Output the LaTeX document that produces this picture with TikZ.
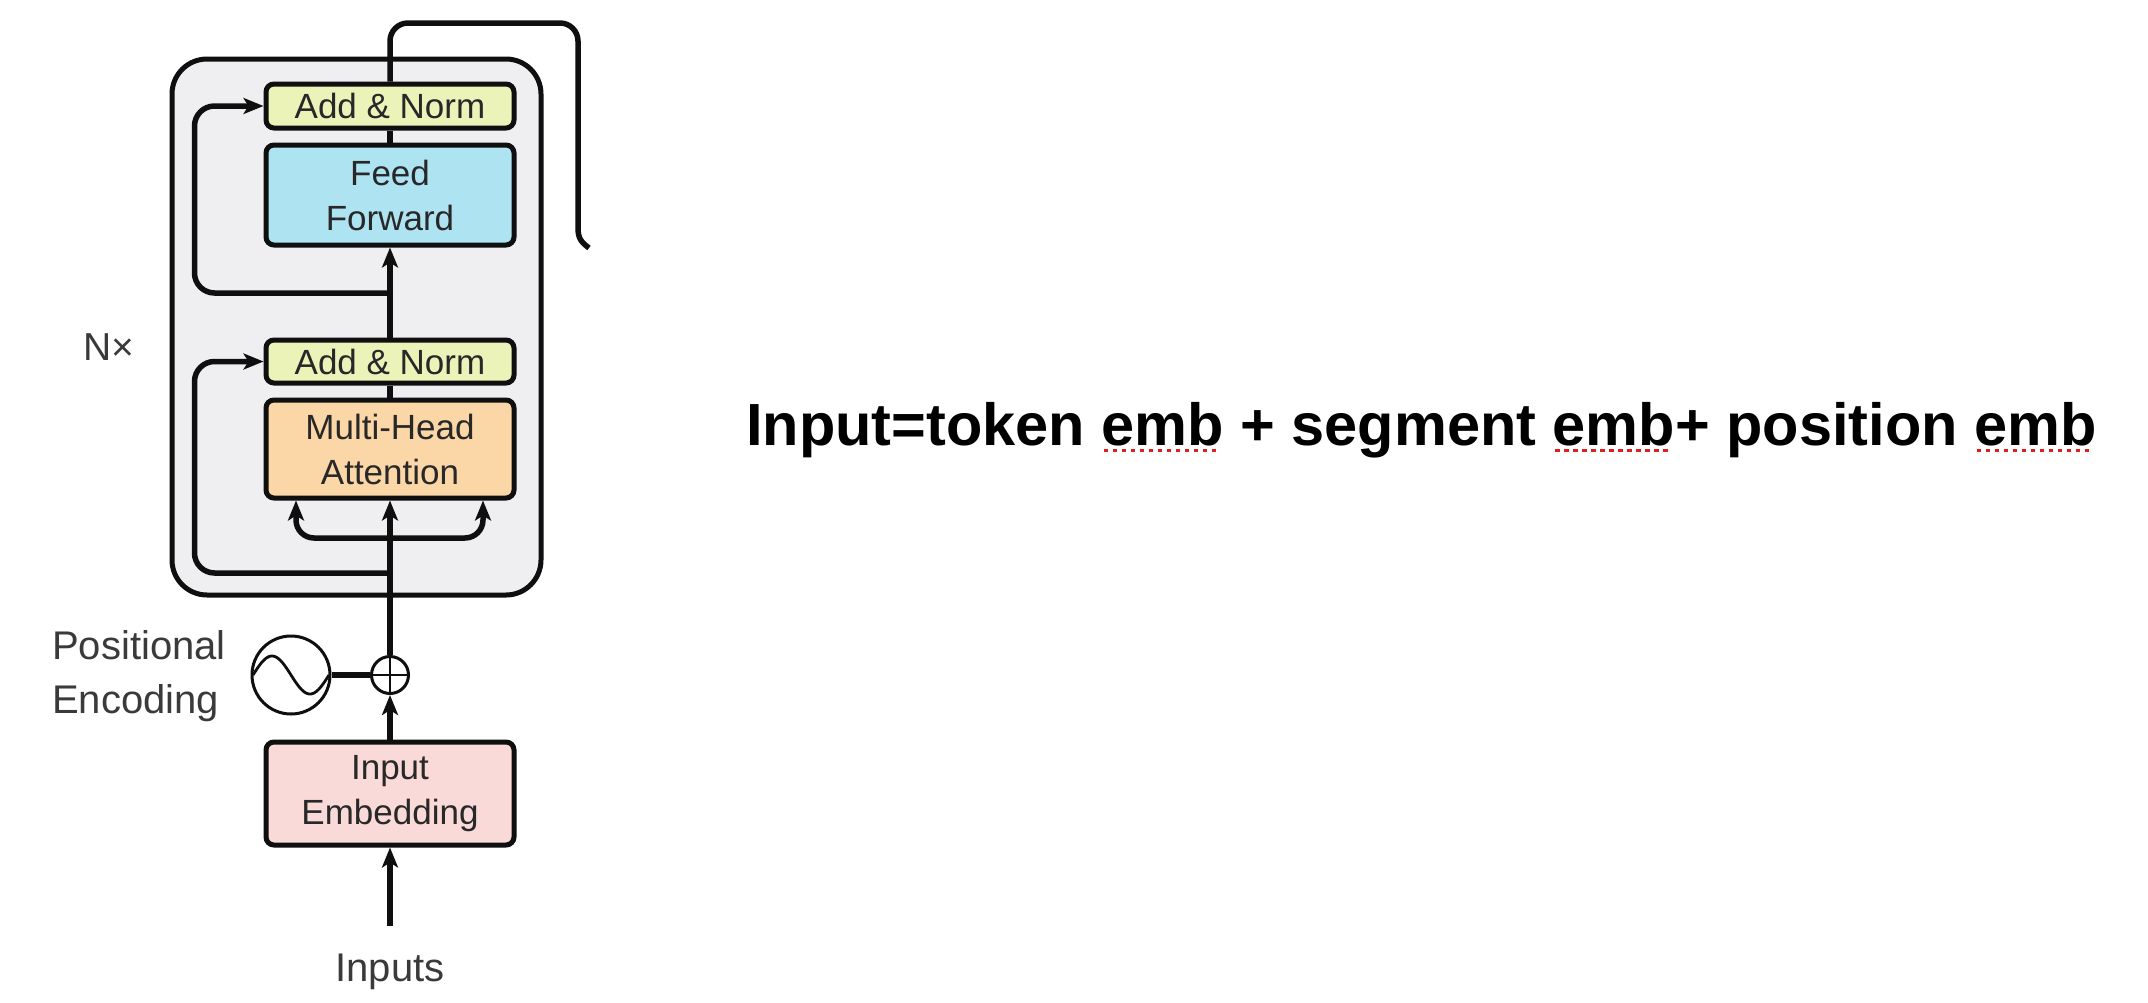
\documentclass[tikz,border=0pt]{standalone}
\usepackage{fontspec}
\setmainfont{Liberation Sans}
\usetikzlibrary{arrows.meta}

\definecolor{linek}{RGB}{15,15,15}
\definecolor{encfill}{RGB}{239,239,242}
\definecolor{anfill}{RGB}{236,243,184}
\definecolor{fffill}{RGB}{174,227,241}
\definecolor{mhafill}{RGB}{251,214,166}
\definecolor{embfill}{RGB}{250,217,217}
\definecolor{boxtext}{RGB}{40,40,40}
\definecolor{lbltext}{RGB}{58,58,58}
\definecolor{squigred}{RGB}{225,30,30}

% red dotted spell-check mark under a word
\newcommand\squig[1]{\setbox0=\hbox{#1}\rlap{\raisebox{-7pt}{\textcolor{squigred}{\leaders\hbox to 9pt{\hss\rule{4.5pt}{3pt}\hss}\hskip\wd0}}}\box0\relax}

\begin{document}
\begin{tikzpicture}[x=1pt,y=-1pt,
  conn/.style={line width=5.5pt, draw=linek},
  tip/.style={-{Stealth[length=20pt,width=16pt,inset=5pt]}},
  blk/.style={draw=linek, line width=5pt, rounded corners=8pt,
    minimum width=248pt, text=boxtext, align=center, inner sep=0pt,
    font=\fontsize{35}{45}\selectfont},
  lbl/.style={text=lbltext, inner sep=0pt, font=\fontsize{40}{54}\selectfont}]

\useasboundingbox[fill=white] (0,0) rectangle (2148,1002);

% encoder block frame
\node[draw=linek, fill=encfill, line width=5pt, rounded corners=35pt,
      minimum width=369pt, minimum height=536pt, inner sep=0pt]
      (enc) at (356.5,327) {};

% sub-layers
\node[blk, fill=anfill, minimum height=44pt] (an2) at (390,106) {Add \& Norm};
\node[blk, fill=fffill, minimum height=100pt] (ff) at (390,195) {Feed\\Forward};
\node[blk, fill=anfill, minimum height=43pt] (an1) at (390,361.5) {Add \& Norm};
\node[blk, fill=mhafill, minimum height=98pt] (mha) at (390,449) {Multi-Head\\Attention};
\node[blk, fill=embfill, minimum height=103pt] (emb) at (390,793.5) {Input\\Embedding};

% positional encoding and sum
\node[circle, draw=linek, line width=3pt, minimum size=78pt, inner sep=0pt] (pe) at (291,675) {};
\draw[line width=2.8pt, draw=linek] plot[domain=-38:38, samples=60] ({291+\x},{675+19*sin(360*\x/76)});
\node[circle, draw=linek, fill=white, line width=3pt, minimum size=37pt, inner sep=0pt] (plus) at (390,675) {};
\draw[line width=2.8pt, draw=linek] (plus.north) -- (plus.south) (plus.west) -- (plus.east);

% labels
\node[lbl, anchor=west, align=left] (pelbl) at (52,676) {Positional\\Encoding};
\node[lbl, anchor=base] (inputs) at (390,981) {Inputs};
\node[lbl, anchor=base west, font=\fontsize{39}{47}\selectfont] (nx) at (83,360) {N×};

% connection points
\coordinate (src) at (390,926);
\coordinate (res1) at (390,573);
\coordinate (split) at (390,538);
\coordinate (res2) at (390,293);
\coordinate (o1) at (578,23);
\coordinate (o2) at (578,228);
\coordinate (oend) at (589,248);

% data flow
\draw[conn, tip] (src) -- (emb.south);
\draw[conn, tip] (emb.north) -- (plus.south);
\draw[conn] (pe.east) -- (plus.west);
\draw[conn, tip] (plus.north) -- (mha.south);
\draw[conn, tip, rounded corners=18pt] (split) -| ([xshift=-94pt]mha.south);
\draw[conn, tip, rounded corners=18pt] (split) -| ([xshift=93pt]mha.south);
\draw[conn, tip, rounded corners=20pt] (res1) -| ([xshift=-69pt]an1.west) -- (an1.west);
\draw[conn] (mha.north) -- (an1.south);
\draw[conn, tip] (an1.north) -- (ff.south);
\draw[conn, tip, rounded corners=20pt] (res2) -| ([xshift=-69pt]an2.west) -- (an2.west);
\draw[conn] (ff.north) -- (an2.south);
\draw[conn, rounded corners=18pt] (an2.north) |- (o1) -- (o2);
\draw[conn] (o2) .. controls (578,238) and (581,242) .. (oend);

% formula
\node[anchor=base west, inner sep=0pt, font=\fontsize{59.5}{70}\selectfont\bfseries]
  (title) at (746,445) {Input=token \squig{emb} + segment \squig{emb}+ position \squig{emb}};

\end{tikzpicture}
\end{document}
